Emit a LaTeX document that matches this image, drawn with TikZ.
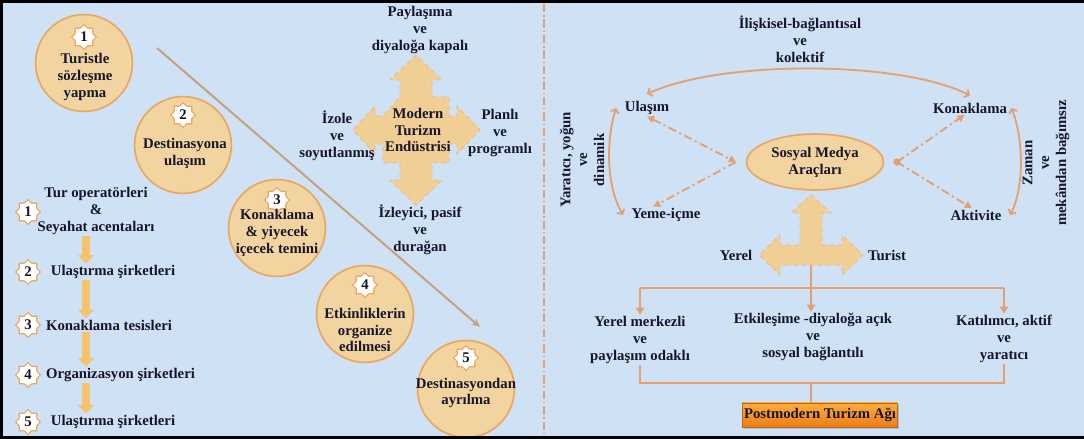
\documentclass[tikz,border=0pt]{standalone}
\usepackage{fontspec}
\setmainfont{Liberation Serif}
\usetikzlibrary{shapes.geometric, arrows.meta, positioning, shadows}
\definecolor{bgblue}{RGB}{206,225,245}
\definecolor{tanfill}{RGB}{242,212,160}
\definecolor{tanedge}{RGB}{233,168,98}
\definecolor{crossfill}{RGB}{240,206,148}
\definecolor{lineorange}{RGB}{228,160,110}
\definecolor{diagbrown}{RGB}{198,160,122}
\definecolor{arrowfill}{RGB}{246,194,108}
\definecolor{inkdark}{RGB}{22,22,40}
\definecolor{boxtop}{RGB}{252,172,62}
\definecolor{boxbottom}{RGB}{236,126,22}

\begin{document}
\begin{tikzpicture}[
    x=0.025cm, y=-0.025cm,
    every node/.append style={font=\fontsize{10.5}{12}\selectfont\bfseries, text=inkdark},
    stepcircle/.style={circle, draw=tanedge, line width=1.2pt, fill=tanfill, minimum size=2.42cm},
    badge/.style={star, star points=8, star point ratio=1.3, draw=tanedge, line width=0.8pt, fill=white, minimum size=0.62cm, inner sep=0pt},
    txt/.style={align=center, inner sep=1pt},
    fatarrow/.style={arrowfill, line width=6pt, -{Triangle[width=11pt,length=6pt]}},
    diagline/.style={diagbrown, line width=1.4pt, -{Stealth[length=6pt,width=5pt]}},
    crossarrow/.style={fill=crossfill, draw=tanedge!80, dashed, line width=0.6pt},
    arcline/.style={lineorange, line width=1.3pt},
    dotline/.style={lineorange, line width=1.3pt, dash pattern=on 6pt off 2.5pt on 1.5pt off 2.5pt},
    treeline/.style={lineorange, line width=1.3pt},
    >={Straight Barb[length=2.5pt,width=6pt]}
]
    \useasboundingbox (0,0) rectangle (1084,439);
    \fill[bgblue] (0,0) rectangle (1084,439);

    % Divider between the two halves
    \coordinate (divtop) at (544,4);
    \coordinate (divbot) at (544,435);
    \draw[lineorange, line width=1.2pt, dash pattern=on 6pt off 2pt on 1pt off 2pt] (divtop) -- (divbot);

    % Steps of the travel
    \coordinate (diagS) at (157,48);
    \coordinate (diagE) at (480,327);
    \draw[diagline] (diagS) -- (diagE);

    \node[stepcircle] (c1) at (84,63) {};
    \node[badge] (n1) at (84,37) {1};
    \node[txt] (t1) at (85,77) {Turistle\\sözleşme\\yapma};

    \node[stepcircle] (c2) at (183,145) {};
    \node[badge] (n2) at (183,115) {2};
    \node[txt] (t2) at (185,153) {Destinasyona\\ulaşım};

    \node[stepcircle] (c3) at (277,228) {};
    \node[badge] (n3) at (277,200) {3};
    \node[txt] (t3) at (277,233) {Konaklama\\\& yiyecek\\içecek temini};

    \node[stepcircle] (c4) at (365,314) {};
    \node[badge] (n4) at (365,285) {4};
    \node[txt] (t4) at (365,330) {Etkinliklerin\\organize\\edilmesi};

    \node[stepcircle] (c5) at (466,389) {};
    \node[badge] (n5) at (466,358) {5};
    \node[txt] (t5) at (466,393) {Destinasyondan\\ayrılma};

    % Chain of firms
    \coordinate (ax) at (86,0);
    \node[badge] (m1) at (28,212) {1};
    \node[txt] (l1) at (96,211) {Tur operatörleri\\\&\\Seyahat acentaları};
    \node[badge] (m2) at (28,272) {2};
    \node[txt, anchor=west, right=0.2cm of m2] (l2) {Ulaştırma şirketleri};
    \node[badge] (m3) at (28,325) {3};
    \node[txt, anchor=west, right=0.08cm of m3] (l3) {Konaklama tesisleri};
    \node[badge] (m4) at (28,375) {4};
    \node[txt, anchor=west, right=0.08cm of m4] (l4) {Organizasyon şirketleri};
    \node[badge] (m5) at (28,422) {5};
    \node[txt, anchor=west, right=0.2cm of m5] (l5) {Ulaştırma şirketleri};

    \draw[fatarrow] (l1.south -| ax) -- (l2.north -| ax);
    \draw[fatarrow] (l2.south -| ax) -- (l3.north -| ax);
    \draw[fatarrow] (l3.south -| ax) -- (l4.north -| ax);
    \draw[fatarrow] (l4.south -| ax) -- (l5.north -| ax);

    % Modern tourism cross
    \begin{scope}[shift={(416,130)}]
        \draw[crossarrow] (-16,-33) -- (-16,-50) -- (-26,-50) -- (0,-75) -- (26,-50) -- (16,-50) -- (16,-33)
            -- (33,-33) -- (33,-14) -- (41,-14) -- (41,-24) -- (64,0) -- (41,24) -- (41,14) -- (33,14)
            -- (33,33) -- (16,33) -- (16,50) -- (26,50) -- (0,75) -- (-26,50) -- (-16,50) -- (-16,33)
            -- (-33,33) -- (-33,14) -- (-41,14) -- (-41,24) -- (-63,0) -- (-41,-24) -- (-41,-14) -- (-33,-14)
            -- cycle;
    \end{scope}
    \node[txt] (modern) at (418,130) {Modern\\Turizm\\Endüstrisi};
    \node[txt] (kapali) at (420,30) {Paylaşıma\\ve\\diyaloğa kapalı};
    \node[txt] (izole) at (337,136) {İzole\\ve\\soyutlanmış};
    \node[txt] (planli) at (500,133) {Planlı\\ve\\programlı};
    \node[txt] (pasif) at (420,230) {İzleyici, pasif\\ve\\durağan};

    % Postmodern network
    \node[txt] (iliski) at (800,39) {İlişkisel-bağlantısal\\ve\\kolektif};
    \node[txt] (u) at (647,108) {Ulaşım};
    \node[txt] (k) at (970,108) {Konaklama};
    \node[txt] (ye) at (666,215) {Yeme-içme};
    \node[txt] (ak) at (976,215) {Aktivite};
    \node[ellipse, draw=tanedge, line width=1.2pt, fill=tanfill, minimum width=3.35cm, minimum height=1.28cm, align=center] (sm) at (815,162) {Sosyal Medya\\Araçları};
    \node[txt, rotate=90] (yaratici) at (582,160) {Yaratıcı, yoğun\\ve\\dinamik};
    \node[txt, rotate=90] (zaman) at (1046,163) {Zaman\\ve\\mekândan bağımsız};

    \draw[arcline, <->] ([yshift=4pt]u.north) .. controls (720,60) and (900,60) .. ([yshift=4pt]k.north);
    \draw[arcline, <->] ([xshift=-5pt]u.west) .. controls (606,140) and (606,185) .. ([xshift=-5pt]ye.west);
    \draw[arcline, <->] ([xshift=2pt]k.east) .. controls (1024,140) and (1024,188) .. ([xshift=5pt]ak.east);

    \coordinate (hubL) at ([xshift=-7pt]sm.west);
    \coordinate (hubR) at ([xshift=9pt]sm.east);
    \draw[dotline, {Triangle[length=5pt,width=5pt]}-{Triangle[length=5pt,width=5pt]}] (u.south) -- (hubL);
    \draw[dotline, -{Triangle[length=5pt,width=5pt]}] (hubL) -- ([xshift=-9pt]ye.north);
    \fill[lineorange] (hubR) circle (2.6pt);
    \draw[dotline, -{Triangle[length=5pt,width=5pt]}] (hubR) -- ([xshift=-4pt]k.south);
    \draw[dotline, -{Triangle[length=5pt,width=5pt]}] (hubR) -- ([xshift=-3pt]ak.north);

    % Local / tourist arrow
    \begin{scope}[shift={(811,255)}]
        \draw[crossarrow] (-11,-10) -- (-11,-42) -- (-20,-42) -- (0,-60) -- (20,-42) -- (11,-42) -- (11,-10)
            -- (31,-10) -- (31,-20) -- (52,0) -- (31,20) -- (31,10) -- (-31,10) -- (-31,20) -- (-52,0)
            -- (-31,-20) -- (-31,-10) -- cycle;
    \end{scope}
    \node[txt] (yerel) at (736,255) {Yerel};
    \node[txt] (turist) at (887,255) {Turist};

    \node[txt] (r1) at (640,340) {Yerel merkezli\\ve\\paylaşım odaklı};
    \node[txt] (r2) at (813,337) {Etkileşime -diyaloğa açık\\ve\\sosyal bağlantılı};
    \node[txt] (r3) at (1004,339) {Katılımcı, aktif\\ve\\yaratıcı};

    \coordinate (tbase) at (811,265);
    \coordinate (split) at (811,288);
    \draw[treeline] (tbase) -- (split);
    \draw[treeline] (split -| r1) -- (split -| r3);
    \draw[treeline, -{Triangle[length=5pt,width=6pt]}] (split -| r1) -- (r1.north);
    \draw[treeline, -{Triangle[length=5pt,width=6pt]}] (split) -- (split |- r2.north);
    \draw[treeline, -{Triangle[length=5pt,width=6pt]}] (split -| r3) -- (r3.north);

    \node[draw=boxbottom!80!black, line width=0.6pt, top color=boxtop, bottom color=boxbottom,
          minimum width=3.88cm, minimum height=0.6cm, inner sep=1pt,
          drop shadow={shadow xshift=1.2pt, shadow yshift=-1.2pt, opacity=0.35}] (pm) at (820,415) {Postmodern Turizm Ağı};

    \coordinate (merge) at (811,383);
    \draw[treeline] (r1.south) -- (r1.south |- merge) -- (r3.south |- merge) -- (r3.south);
    \draw[treeline] (merge) -- (merge |- pm.north);

    % Frame
    \draw[black, line width=2.4pt] (1084,1.5) -- (1.5,1.5) -- (1.5,437.5) -- (1084,437.5);
\end{tikzpicture}
\end{document}
